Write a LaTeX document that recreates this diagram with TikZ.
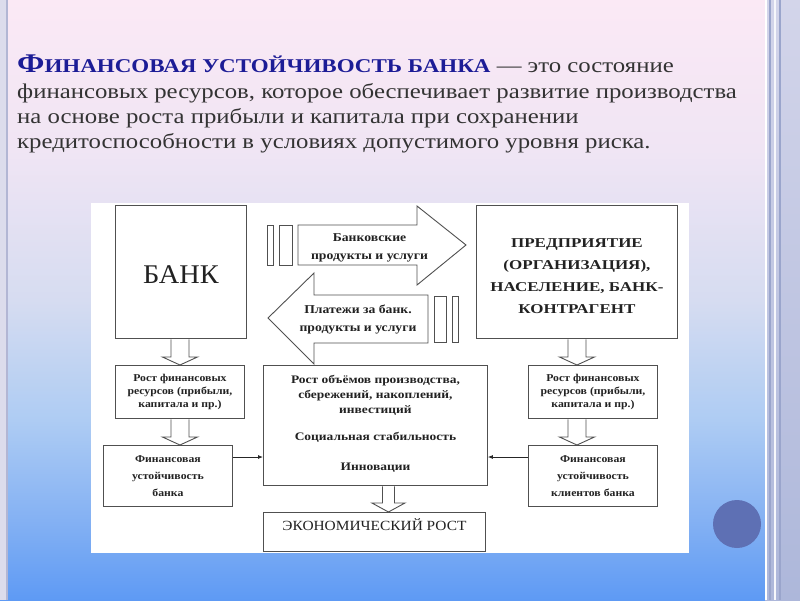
\documentclass[tikz,border=0pt]{standalone}
\usepackage{fontspec}
\setmainfont{Liberation Serif}
\newfontfamily\tfont{Liberation Serif}[FakeStretch=1.18]
\newfontfamily\dfont{Liberation Serif}[FakeStretch=1.12]
\newfontfamily\afont{Liberation Serif}[FakeStretch=1.14]
\newfontfamily\mfont{Liberation Serif}[FakeStretch=1.17]
\newfontfamily\efont{Liberation Serif}[FakeStretch=1.26]
\newfontfamily\bkfont{Liberation Serif}[FakeStretch=1.05]
\newfontfamily\cfont{Liberation Serif}[FakeStretch=1.1]
\usetikzlibrary{calc,arrows.meta}
\definecolor{bgtop}{HTML}{FBE9F5}
\definecolor{bgb}{HTML}{F0E5F4}
\definecolor{bgc}{HTML}{D6DCF1}
\definecolor{bgd}{HTML}{AECCF3}
\definecolor{bge}{HTML}{84B1F3}
\definecolor{bgbot}{HTML}{5E9AF4}
\definecolor{stripT}{HTML}{D3D5EA}
\definecolor{stripB}{HTML}{ADB7DA}
\definecolor{stripline}{HTML}{9AA5CC}
\definecolor{leftstrip}{HTML}{DCDCEC}
\definecolor{leftline}{HTML}{B2B6D4}
\definecolor{dotc}{HTML}{5E70B4}
\definecolor{titleblue}{HTML}{1C1C96}
\definecolor{bodytxt}{HTML}{333333}
\definecolor{lineg}{HTML}{505050}
\definecolor{txt}{HTML}{222222}
\pgfdeclareverticalshading{slidebg}{100bp}{color(0bp)=(bgbot); color(25bp)=(bgbot); color(31.67bp)=(bge); color(40bp)=(bgd); color(50bp)=(bgc); color(62.5bp)=(bgb); color(75bp)=(bgtop); color(100bp)=(bgtop)}
\newcommand\hollowarrow[5]{%
  \filldraw[hol] ($(#1)+(-#3,0.5)$) -- ($(#2)+(-#3,-#5)$) -- ($(#2)+(-#4,-#5)$) -- (#2) -- ($(#2)+(#4,-#5)$) -- ($(#2)+(#3,-#5)$) -- ($(#1)+(#3,0.5)$);}
\newcommand\dtxt{\dfont\bfseries\fontsize{10.5}{13}\selectfont}
\newcommand\ftxt{\dfont\bfseries\fontsize{10.5}{17}\selectfont}
\newcommand\atxt{\afont\bfseries\fontsize{12}{18}\selectfont}
\newcommand\bodyf{\tfont\fontsize{21}{21}\selectfont}
\begin{document}
\begin{tikzpicture}[x=1pt,y=-1pt,
  dbox/.style={draw=lineg, line width=0.9pt, fill=white, inner sep=0pt, anchor=north west, align=center, text=txt},
  hol/.style={draw=lineg, line width=0.9pt, fill=white},
  bigarrow/.style={draw=lineg, line width=0.9pt, fill=white, line join=miter},
  bar/.style={draw=lineg, line width=0.9pt, fill=white},
  thinarr/.style={draw=black!85, line width=0.8pt, -{Latex[length=5pt,width=4pt]}},
  lbl/.style={inner sep=0pt, align=center, text=txt},
  body/.style={anchor=base west, inner sep=0pt, text=bodytxt, font=\bodyf}]
\useasboundingbox (0,0) rectangle (800,600);
% slide background
\shade[shading=slidebg] (0,0) rectangle (800,600);
\fill[leftstrip] (0,0) rectangle (6,600);
\draw[leftline, line width=1.5pt] (7,0) -- (7,600);
\shade[top color=stripT, bottom color=stripB] (765,0) rectangle (800,600);
\draw[white, line width=1.5pt] (766,0) -- (766,600);
\draw[stripline, line width=2pt] (770,0) -- (770,600);
\draw[white!80!stripT, line width=2pt] (775,0) -- (775,600);
\draw[stripline, line width=1.5pt] (780,0) -- (780,600);
\fill[dotc] (737,524) circle[radius=24];
% title
\node[body] (t1) at (17,72)
  {{\color{titleblue}\bfseries{\fontsize{27}{27}\selectfont Ф}{\fontsize{19.5}{19.5}\selectfont ИНАНСОВАЯ УСТОЙЧИВОСТЬ БАНКА}} — это состояние};
\node[body] (t2) at (17,98) {финансовых ресурсов, которое обеспечивает развитие производства};
\node[body] (t3) at (17,123) {на основе роста прибыли и капитала при сохранении};
\node[body] (t4) at (17,148) {кредитоспособности в условиях допустимого уровня риска.};
% panel
\fill[white] (91,203) rectangle (689,553);
% boxes
\node[dbox, minimum width=131pt, minimum height=133pt] (bank) at (115,205) {};
\node[lbl, font=\bkfont\fontsize{27}{27}\selectfont] (banktext) at ($(bank.center)+(0,3)$) {БАНК};
\node[dbox, minimum width=201pt, minimum height=133pt] (ent) at (476,205) {};
\node[lbl, font=\efont\bfseries\fontsize{13.5}{22}\selectfont] (enttext) at ($(ent.center)+(0,4)$)
  {ПРЕДПРИЯТИЕ\\(ОРГАНИЗАЦИЯ),\\НАСЕЛЕНИЕ, БАНК-\\КОНТРАГЕНТ};
\node[dbox, minimum width=129pt, minimum height=53pt, font=\dtxt] (rostL) at (115,365)
  {Рост финансовых\\ресурсов (прибыли,\\капитала и пр.)};
\node[dbox, minimum width=129pt, minimum height=61pt, font=\ftxt] (finL) at (103,445)
  {Финансовая\\устойчивость\\банка};
\node[dbox, minimum width=224pt, minimum height=120pt] (mid) at (263,365) {};
\node[lbl, font=\mfont\bfseries\fontsize{11.5}{15}\selectfont] (midtext) at ($(mid.center)+(0,-2)$)
  {Рост объёмов производства,\\сбережений, накоплений,\\инвестиций\\[12pt]Социальная стабильность\\[15pt]Инновации};
\node[dbox, minimum width=129pt, minimum height=53pt, font=\dtxt] (rostR) at (528,365)
  {Рост финансовых\\ресурсов (прибыли,\\капитала и пр.)};
\node[dbox, minimum width=129pt, minimum height=61pt, font=\ftxt] (finR) at (528,445)
  {Финансовая\\устойчивость\\клиентов банка};
\node[dbox, minimum width=222pt, minimum height=39pt] (econ) at (263,512) {};
\node[lbl, font=\cfont\fontsize{14}{14}\selectfont] (econtext) at ($(econ.north)+(0,13)$) {ЭКОНОМИЧЕСКИЙ РОСТ};
% big arrows
\filldraw[bar] (267,225) rectangle (273,265);
\filldraw[bar] (279,225) rectangle (292,265);
\filldraw[bigarrow] (298,225) -- (417,225) -- (417,206) -- (466,245) -- (417,285) -- (417,265) -- (298,265) -- cycle;
\node[lbl, font=\atxt] (prod) at (369.5,248) {Банковские\\продукты и услуги};
\filldraw[bigarrow] (428,295) -- (314,295) -- (314,273) -- (268,318) -- (314,364) -- (314,343) -- (428,343) -- cycle;
\filldraw[bar] (434,296) rectangle (446,342);
\filldraw[bar] (452,296) rectangle (458,342);
\node[lbl, font=\atxt] (pay) at (358,319) {Платежи за банк.\\продукты и услуги};
% hollow down arrows
\coordinate (a1s) at (rostL.north |- bank.south);
\hollowarrow{a1s}{rostL.north}{9}{17.5}{8}
\coordinate (a2t) at (rostL.south |- finL.north);
\hollowarrow{rostL.south}{a2t}{9}{17.5}{8}
\coordinate (a3t) at (ent.south |- rostR.north);
\hollowarrow{ent.south}{a3t}{9}{17.5}{8}
\coordinate (a4s) at (ent.south |- rostR.south);
\coordinate (a4t) at (ent.south |- finR.north);
\hollowarrow{a4s}{a4t}{9}{17.5}{8}
\coordinate (a5s) at ($(mid.south)+(13,0)$);
\coordinate (a5t) at (a5s |- econ.north);
\hollowarrow{a5s}{a5t}{6}{16.5}{9}
% thin arrows
\coordinate (la) at ($(finL.north east)+(0,12)$);
\draw[thinarr] (la) -- (la -| mid.west);
\coordinate (ra) at ($(finR.north west)+(0,12)$);
\draw[thinarr] (ra) -- (ra -| mid.east);
\end{tikzpicture}
\end{document}
